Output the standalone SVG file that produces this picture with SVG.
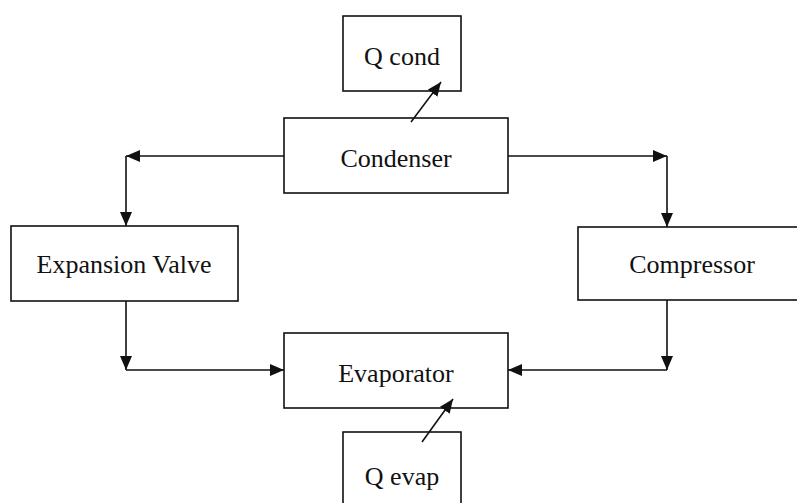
<svg xmlns="http://www.w3.org/2000/svg" width="797" height="503" viewBox="0 0 797 503">
<style>
.box{fill:#fff;stroke:#111;stroke-width:1.6}
.lbl{font-family:"Liberation Serif","Times New Roman",serif;font-size:26px;fill:#111;text-anchor:middle}
.con{fill:none;stroke:#111;stroke-width:1.6}
</style>
<defs>
<marker id="ah" viewBox="0 0 14 12" refX="14" refY="6" markerWidth="14" markerHeight="12" markerUnits="userSpaceOnUse" orient="auto">
<path d="M0,0 L14,6 L0,12 Z" fill="#111"/>
</marker>
</defs>
<rect width="797" height="503" fill="#fff"/>
<g id="qcond"><rect class="box" x="343" y="16" width="118" height="75"/><text class="lbl" x="402" y="65">Q cond</text></g>
<g id="condenser"><rect class="box" x="284" y="118" width="224" height="75"/><text class="lbl" x="396" y="167">Condenser</text></g>
<g id="expansion"><rect class="box" x="11" y="226" width="227" height="75"/><text class="lbl" x="124" y="273">Expansion Valve</text></g>
<g id="compressor"><rect class="box" x="578" y="227" width="240" height="73"/><text class="lbl" x="692" y="273">Compressor</text></g>
<g id="evaporator"><rect class="box" x="284" y="333" width="224" height="75"/><text class="lbl" x="396" y="382">Evaporator</text></g>
<g id="qevap"><rect class="box" x="343" y="432" width="118" height="80"/><text class="lbl" x="402" y="485">Q evap</text></g>
<g id="connectors">
<line class="con" x1="411" y1="122" x2="441" y2="82" marker-end="url(#ah)"/>
<line class="con" x1="422" y1="442" x2="453" y2="399" marker-end="url(#ah)"/>
<line class="con" x1="284" y1="156" x2="126" y2="156" marker-end="url(#ah)"/>
<line class="con" x1="126" y1="156" x2="126" y2="226" marker-end="url(#ah)"/>
<line class="con" x1="126" y1="301" x2="126" y2="370" marker-end="url(#ah)"/>
<line class="con" x1="126" y1="370" x2="284" y2="370" marker-end="url(#ah)"/>
<line class="con" x1="508" y1="156" x2="667" y2="156" marker-end="url(#ah)"/>
<line class="con" x1="667" y1="156" x2="667" y2="227" marker-end="url(#ah)"/>
<line class="con" x1="667" y1="300" x2="667" y2="370" marker-end="url(#ah)"/>
<line class="con" x1="667" y1="370" x2="508" y2="370" marker-end="url(#ah)"/>
</g>
</svg>
